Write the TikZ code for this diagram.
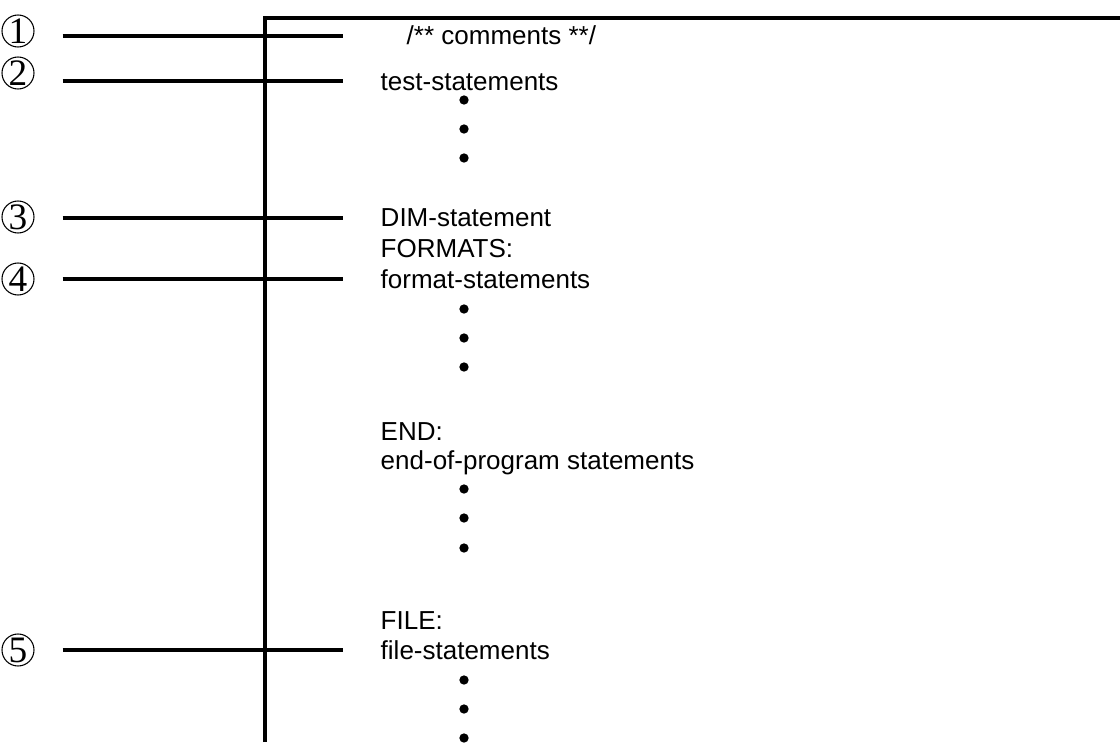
\documentclass[tikz,border=0pt]{standalone}
\usepackage{fontspec}
\setmainfont{Liberation Sans}
\newfontfamily\numfont{Liberation Serif}
\usetikzlibrary{positioning}

\begin{document}
\begin{tikzpicture}[x=0.75pt,y=-0.75pt,line width=2.6pt]
  \tikzstyle{every node}=[font=\fontsize{19.5pt}{22pt}\selectfont]
  \tikzstyle{num}=[circle,draw,line width=0.8pt,minimum size=24pt,inner sep=0pt,font=\numfont\fontsize{28pt}{28pt}\selectfont]
  \tikzstyle{stmt}=[anchor=base west,inner sep=0pt]
  \tikzstyle{dot}=[circle,fill=black,minimum size=7pt,inner sep=0pt]
  \useasboundingbox (0,0) rectangle (1120,742);

  % frame
  \coordinate (top) at (265,18);
  \coordinate (bot) at (265,742);
  \coordinate (rgt) at (1120,18);
  \draw (bot) -- (top) -- (rgt);

  % numbered markers
  \node[num] (c1) at (18,31)  {1};
  \node[num] (c2) at (18,73)  {2};
  \node[num] (c3) at (18,217) {3};
  \node[num] (c4) at (18,279) {4};
  \node[num] (c5) at (18,650) {5};

  \coordinate (s1) at (343,36);
  \coordinate (s2) at (343,81);
  \coordinate (s3) at (343,218);
  \coordinate (s4) at (343,279);
  \coordinate (s5) at (343,650);

  \foreach \i in {1,...,5}
    \draw[shorten <=21pt] (c\i.east |- s\i) -- (s\i);

  % statements
  \node[stmt] (cmt)   at (405,45)  {/** comments **/};
  \node[stmt] (tst)   at (379,90)  {test-statements};
  \node[stmt] (dim)   at (379,226) {DIM-statement};
  \node[stmt] (fmts)  at (379,257) {FORMATS:};
  \node[stmt] (fmt)   at (379,288) {format-statements};
  \node[stmt] (endl)  at (379,440) {END:};
  \node[stmt] (eop)   at (379,469) {end-of-program statements};
  \node[stmt] (filel) at (379,629) {FILE:};
  \node[stmt] (fil)   at (379,659) {file-statements};

  \foreach \y in {100,129,158,309,338,367,489,518,548,680,709,738}
    \node[dot] at (464,\y) {};
\end{tikzpicture}
\end{document}
